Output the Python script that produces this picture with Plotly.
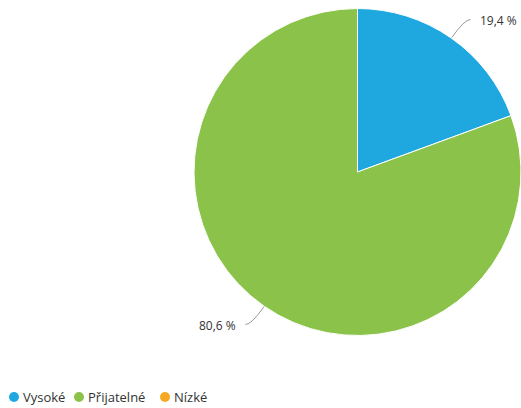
import math
import plotly.graph_objects as go

# Data
categories = ["Vysoké", "Přijatelné", "Nízké"]
values = [19.4, 80.6, 0.0]
colors = ["#1fa8e0", "#8bc34a", "#f7a823"]

W, H = 521, 408
FONT = "Open Sans, Segoe UI, DejaVu Sans, sans-serif"

# Pie geometry in pixels (domain sized so the pie has radius ~164)
cx, cy, R = 358.0, 172.0, 164.0
dom_x = [(cx - R) / W, min(1.0, (cx + R) / W)]
dom_y = [1 - (cy + R) / H, 1 - (cy - R) / H]


def px(x):
    return x / W


def py(y):
    return 1 - y / H


def fmt(v):
    return f"{v:.1f}".replace(".", ",") + " %"


fig = go.Figure()
fig.add_trace(go.Pie(
    labels=categories,
    values=values,
    marker=dict(colors=colors, line=dict(color="white", width=1)),
    sort=False,
    direction="clockwise",
    rotation=0,
    textinfo="none",
    hoverinfo="label+percent",
    showlegend=False,
    domain=dict(x=dom_x, y=dom_y),
))

shapes = []
annotations = []

# Outside labels with connector lines, placed at each slice's mid-angle
total = sum(values)
start = 0.0
for v in values:
    if v <= 0:
        continue
    frac = v / total
    mid = (start + frac / 2) * 2 * math.pi
    start += frac
    sx, sy = math.sin(mid), -math.cos(mid)
    ex, ey = cx + R * sx, cy + R * sy
    right = sx >= 0
    bx, by = cx + (R + 22) * sx, cy + (R + 22) * sy
    hx = bx + (6 if right else -6)
    path = f"M {px(ex)} {py(ey)} Q {px(bx)} {py(by)} {px(hx)} {py(by)}"
    shapes.append(dict(type="path", xref="paper", yref="paper", path=path,
                       line=dict(color="#999999", width=1)))
    annotations.append(dict(
        x=px(hx + (8 if right else -8)), y=py(by + 1), xref="paper", yref="paper",
        text=fmt(v), showarrow=False,
        xanchor="left" if right else "right", yanchor="middle",
        font=dict(family=FONT, size=12, color="#333333"),
    ))

# Legend row with circle markers
legend_marker_x = [14, 79, 165]
legend_y = 397
for name, col, mx in zip(categories, colors, legend_marker_x):
    shapes.append(dict(type="circle", xref="paper", yref="paper",
                       x0=px(mx - 5), x1=px(mx + 5), y0=py(legend_y + 5), y1=py(legend_y - 5),
                       fillcolor=col, line=dict(width=0)))
    annotations.append(dict(
        x=px(mx + 7), y=py(legend_y), xref="paper", yref="paper",
        text=name, showarrow=False, xanchor="left", yanchor="middle",
        font=dict(family=FONT, size=13, color="#333333"),
    ))

fig.update_layout(
    width=W, height=H,
    margin=dict(l=0, r=0, t=0, b=0),
    paper_bgcolor="white", plot_bgcolor="white",
    shapes=shapes, annotations=annotations,
    showlegend=False,
    font=dict(family=FONT),
)

fig.write_html("out.html")
